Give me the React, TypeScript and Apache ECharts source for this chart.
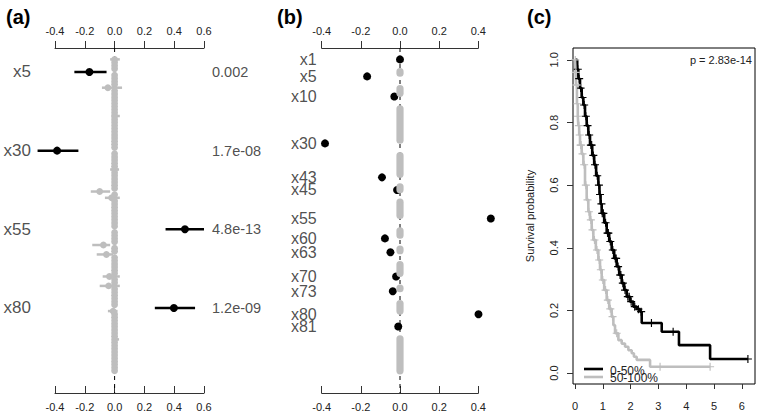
import React, { useEffect, useRef } from "react";
import * as echarts from "echarts";

const FONT = '"Liberation Sans", Arial, Helvetica, sans-serif';
const BLACK = "#000000";
const GREY = "#bebebe";
const TEXT = "#222222";
const AXIS = "#333333";

// ---------------- Panel (a): estimates with confidence intervals ----------------
const A_VAR_INDEX = [5, 30, 55, 80];
const A_EST = [-0.169, -0.386, 0.472, 0.398];
const A_LO = [-0.27, -0.517, 0.342, 0.27];
const A_HI = [-0.054, -0.243, 0.6, 0.54];
const A_PVALUES = ["0.002", "1.7e-08", "4.8e-13", "1.2e-09"];

// grey estimates for x1..x100 (null = drawn in black)
const GREY_EST = [
  0, 0, 0, 0, null, 0, 0, 0, 0, -0.045,
  0, 0, 0, 0, 0, 0, 0, 0, 0, 0,
  0, 0, 0, 0, 0, 0, 0, 0, 0, null,
  0, 0, 0, 0, 0, 0, 0, 0, 0, 0,
  0, 0, -0.1, 0, -0.02, 0, 0, 0, 0, 0,
  0, 0, 0, 0, null, 0, 0, 0, 0, -0.075,
  0, 0, -0.055, 0, 0, 0, 0, 0, 0, -0.035,
  0, 0, -0.04, 0, 0, 0, 0, 0, 0, null,
  -0.01, 0, 0, 0, 0, 0, 0, 0, 0, 0,
  0, 0, 0, 0, 0, 0, 0, 0, 0, 0,
];
const GREY_LO = [
  -0.03, -0.015, -0.015, -0.015, null, -0.015, -0.015, -0.015, -0.015, -0.085,
  -0.015, -0.015, -0.015, -0.015, -0.015, -0.015, -0.015, -0.015, -0.02, -0.015,
  -0.015, -0.015, -0.015, -0.015, -0.015, -0.015, -0.015, -0.015, -0.015, null,
  -0.015, -0.015, -0.015, -0.015, -0.015, -0.03, -0.015, -0.015, -0.015, -0.015,
  -0.015, -0.015, -0.16, -0.015, -0.065, -0.015, -0.015, -0.015, -0.015, -0.015,
  -0.015, -0.015, -0.015, -0.015, null, -0.015, -0.015, -0.015, -0.015, -0.15,
  -0.015, -0.015, -0.12, -0.015, -0.015, -0.015, -0.015, -0.015, -0.015, -0.08,
  -0.015, -0.015, -0.1, -0.015, -0.015, -0.015, -0.015, -0.015, -0.015, null,
  -0.045, -0.015, -0.015, -0.015, -0.015, -0.015, -0.015, -0.015, -0.015, -0.01,
  -0.015, -0.015, -0.015, -0.015, -0.015, -0.015, -0.015, -0.015, -0.015, -0.015,
];
const GREY_HI = [
  0.035, 0.015, 0.015, 0.015, null, 0.015, 0.015, 0.015, 0.015, 0.05,
  0.015, 0.015, 0.015, 0.015, 0.015, 0.015, 0.015, 0.015, 0.035, 0.015,
  0.015, 0.015, 0.015, 0.015, 0.015, 0.015, 0.015, 0.015, 0.015, null,
  0.015, 0.015, 0.015, 0.015, 0.015, 0.03, 0.015, 0.015, 0.015, 0.015,
  0.015, 0.015, -0.03, 0.015, 0.035, 0.015, 0.015, 0.015, 0.015, 0.015,
  0.015, 0.015, 0.015, 0.015, null, 0.015, 0.015, 0.015, 0.015, -0.03,
  0.015, 0.015, -0.01, 0.015, 0.015, 0.015, 0.015, 0.015, 0.015, 0.035,
  0.015, 0.015, 0.035, 0.015, 0.015, 0.015, 0.015, 0.015, 0.015, null,
  0.02, 0.015, 0.015, 0.015, 0.015, 0.015, 0.015, 0.015, 0.015, 0.03,
  0.015, 0.015, 0.015, 0.015, 0.015, 0.015, 0.015, 0.015, 0.015, 0.015,
];

// ---------------- Panel (b): selected coefficients ----------------
const B_VAR_INDEX = [1, 5, 10, 30, 43, 45, 55, 60, 63, 70, 73, 80, 81];
const B_COEF = [0, -0.168, -0.029, -0.383, -0.092, -0.015, 0.464, -0.077, -0.049, -0.02, -0.037, 0.401, -0.009];
const B_ROW = [1.0, 6.4, 12.8, 27.7, 38.5, 42.5, 51.6, 57.9, 62.3, 70.0, 74.7, 82.0, 85.9];
const B_LAST_ROW = 100;
const N_VARS = 100;

// ---------------- Panel (c): Kaplan-Meier curves ----------------
const KM_LOW_T = [0, 0.08, 0.12, 0.18, 0.24, 0.3, 0.36, 0.42, 0.48, 0.54, 0.62, 0.69, 0.76, 0.84, 0.88, 0.92, 0.96, 1.05, 1.14, 1.23, 1.32, 1.41, 1.5, 1.59, 1.68, 1.77, 1.86, 1.98, 2.1, 2.22, 2.34, 2.4, 3.12, 3.74, 4.86, 6.22];
const KM_LOW_S = [1.0, 0.97, 0.94, 0.91, 0.88, 0.856, 0.82, 0.79, 0.76, 0.728, 0.695, 0.665, 0.63, 0.6, 0.57, 0.54, 0.51, 0.48, 0.447, 0.42, 0.393, 0.366, 0.34, 0.313, 0.287, 0.265, 0.244, 0.228, 0.212, 0.204, 0.196, 0.16, 0.132, 0.089, 0.045, 0.045];
const KM_LOW_CENSOR = [0.1, 0.15, 0.2, 0.27, 0.33, 0.39, 0.45, 0.51, 0.57, 0.6, 0.66, 0.72, 0.8, 0.86, 0.9, 0.95, 0.98, 1.02, 1.1, 1.17, 1.2, 1.27, 1.36, 1.45, 1.48, 1.55, 1.62, 1.65, 1.72, 1.8, 1.9, 1.95, 2.02, 2.15, 2.28, 2.38, 2.75, 3.53, 6.22];

const KM_HIGH_T = [0, 0.02, 0.04, 0.07, 0.1, 0.12, 0.15, 0.18, 0.24, 0.3, 0.36, 0.42, 0.48, 0.54, 0.6, 0.66, 0.75, 0.84, 0.9, 0.96, 1.05, 1.14, 1.23, 1.32, 1.38, 1.44, 1.56, 1.68, 1.8, 1.92, 2.04, 2.12, 2.22, 2.7, 4.86];
const KM_HIGH_S = [1.0, 0.96, 0.92, 0.86, 0.82, 0.79, 0.76, 0.728, 0.7, 0.665, 0.6, 0.553, 0.515, 0.489, 0.457, 0.425, 0.393, 0.361, 0.33, 0.297, 0.265, 0.233, 0.205, 0.18, 0.153, 0.127, 0.105, 0.094, 0.084, 0.073, 0.063, 0.052, 0.042, 0.02, 0.02];
const KM_HIGH_CENSOR = [0.01, 0.03, 0.05, 0.06, 0.09, 0.11, 0.14, 0.17, 0.2, 0.22, 0.27, 0.33, 0.39, 0.45, 0.5, 0.57, 0.63, 0.7, 0.79, 0.87, 0.93, 1.0, 1.1, 1.18, 1.27, 1.35, 1.5, 3.06, 4.86];

const KM_X_TICKS = [0, 1, 2, 3, 4, 5, 6];
const KM_Y_TICKS = [0, 0.2, 0.4, 0.6, 0.8, 1.0];
const KM_LEGEND = ["0-50%", "50-100%"];
const P_VALUE_TEXT = "p = 2.83e-14";

// ---------------- layout constants ----------------
const ROW_MIN = -2.62;
const ROW_MAX = 107.04;
const GAP_AFTER = 3.9;
const GAP_BEFORE = 1.0;
const PLUS = "path://M3,0H4V3H7V4H4V7H3V4H0V3H3Z";

const fmt1 = (v: number) => (Math.abs(v) < 1e-9 ? "0.0" : v.toFixed(1));

function survAt(ts: number[], ss: number[], t: number) {
  let s = ss[0];
  for (let i = 0; i < ts.length; i++) {
    if (ts[i] <= t + 1e-9) s = ss[i];
    else break;
  }
  return s;
}

function coefAxis(gridIndex: number, position: "top" | "bottom", min: number, max: number) {
  const top = position === "top";
  return {
    type: "value",
    gridIndex,
    position,
    min,
    max,
    interval: 0.2,
    axisLine: { show: true, onZero: false, lineStyle: { color: AXIS, width: 1 } },
    axisTick: { show: true, inside: !top, length: 7, lineStyle: { color: AXIS, width: 1 } },
    axisLabel: {
      show: true,
      margin: top ? 12 : 8,
      color: TEXT,
      fontSize: 11,
      fontFamily: FONT,
      showMinLabel: true,
      showMaxLabel: true,
      formatter: fmt1,
    },
    splitLine: { show: false },
  };
}

function rowAxis(gridIndex: number) {
  return {
    type: "value",
    gridIndex,
    inverse: true,
    min: ROW_MIN,
    max: ROW_MAX,
    show: false,
    splitLine: { show: false },
  };
}

export default function App() {
  const ref = useRef<HTMLDivElement>(null);

  useEffect(() => {
    if (!ref.current) return;
    const chart = echarts.init(ref.current, undefined, { renderer: "svg" });

    // panel (a) data
    const greyData: number[][] = [];
    for (let i = 0; i < N_VARS; i++) {
      if (GREY_EST[i] === null) continue;
      greyData.push([GREY_EST[i] as number, GREY_LO[i] as number, GREY_HI[i] as number, i + 1]);
    }
    const blackData = A_VAR_INDEX.map((v, k) => [A_EST[k], A_LO[k], A_HI[k], v]);

    // panel (b) grey runs of unselected variables
    const runs: number[][] = [];
    for (let k = 0; k < B_VAR_INDEX.length; k++) {
      const nextIdx = k + 1 < B_VAR_INDEX.length ? B_VAR_INDEX[k + 1] : N_VARS + 1;
      if (nextIdx - B_VAR_INDEX[k] <= 1) continue;
      const start = B_ROW[k] + GAP_AFTER;
      const end = k + 1 < B_VAR_INDEX.length ? B_ROW[k + 1] - GAP_BEFORE : B_LAST_ROW;
      runs.push([0, Math.min(start, end), Math.max(start, end)]);
    }

    const ciRender = (color: string, r: number) => (params: any, api: any) => {
      const est = api.value(0);
      const lo = api.value(1);
      const hi = api.value(2);
      const row = api.value(3);
      const pl = api.coord([lo, row]);
      const ph = api.coord([hi, row]);
      const pe = api.coord([est, row]);
      return {
        type: "group",
        children: [
          {
            type: "line",
            shape: { x1: pl[0], y1: pl[1], x2: ph[0], y2: ph[1] },
            style: { stroke: color, lineWidth: 2.5 },
          },
          { type: "circle", shape: { cx: pe[0], cy: pe[1], r }, style: { fill: color } },
        ],
      };
    };

    const kmSeries = (ts: number[], ss: number[], color: string) => ({
      type: "line",
      xAxisIndex: 4,
      yAxisIndex: 2,
      step: "end",
      showSymbol: false,
      silent: true,
      z: 3,
      data: ts.map((t, i) => [t, ss[i]]),
      lineStyle: { color, width: 2.6 },
      itemStyle: { color },
    });
    const censorSeries = (cs: number[], ts: number[], ss: number[], color: string) => ({
      type: "scatter",
      xAxisIndex: 4,
      yAxisIndex: 2,
      symbol: PLUS,
      symbolSize: 8,
      silent: true,
      z: 4,
      data: cs.map((t) => [t, survAt(ts, ss, t)]),
      itemStyle: { color, opacity: 1 },
    });

    const option: any = {
      animation: false,
      grid: [
        { left: 55, top: 48, width: 149, height: 345 },
        { left: 321.7, top: 48, width: 156.6, height: 345 },
        {
          left: 573,
          top: 48,
          width: 182,
          height: 336,
          show: true,
          borderColor: "#000",
          borderWidth: 1,
          backgroundColor: "transparent",
        },
      ],
      xAxis: [
        coefAxis(0, "top", -0.4, 0.6),
        coefAxis(0, "bottom", -0.4, 0.6),
        coefAxis(1, "top", -0.4, 0.4),
        coefAxis(1, "bottom", -0.4, 0.4),
        {
          type: "value",
          gridIndex: 2,
          min: -0.072,
          max: 6.475,
          axisLine: { show: false, onZero: false },
          axisTick: {
            show: true,
            length: 5,
            customValues: KM_X_TICKS,
            lineStyle: { color: AXIS, width: 1 },
          },
          axisLabel: {
            show: true,
            customValues: KM_X_TICKS,
            margin: 16,
            color: TEXT,
            fontSize: 11,
            fontFamily: FONT,
            formatter: (v: number) => String(Math.round(v)),
          },
          splitLine: { show: false },
        },
      ],
      yAxis: [
        rowAxis(0),
        rowAxis(1),
        {
          type: "value",
          gridIndex: 2,
          min: -0.035,
          max: 1.038,
          name: "Survival probability",
          nameLocation: "middle",
          nameRotate: 90,
          nameGap: 38,
          nameTextStyle: { fontSize: 11, color: TEXT, fontFamily: FONT },
          axisLine: { show: false, onZero: false },
          axisTick: {
            show: true,
            length: 6,
            customValues: KM_Y_TICKS,
            lineStyle: { color: AXIS, width: 1 },
          },
          axisLabel: {
            show: true,
            customValues: KM_Y_TICKS,
            rotate: 90,
            margin: 14,
            color: TEXT,
            fontSize: 11,
            fontFamily: FONT,
            formatter: fmt1,
          },
          splitLine: { show: false },
        },
      ],
      graphic: [
        { type: "text", x: 6, y: 17, style: { text: "(a)", fontSize: 20, fontWeight: "bold", fontFamily: FONT, fill: BLACK, textVerticalAlign: "middle", verticalAlign: "middle" } },
        { type: "text", x: 277, y: 17, style: { text: "(b)", fontSize: 20, fontWeight: "bold", fontFamily: FONT, fill: BLACK, textVerticalAlign: "middle", verticalAlign: "middle" } },
        { type: "text", x: 527, y: 17, style: { text: "(c)", fontSize: 20, fontWeight: "bold", fontFamily: FONT, fill: BLACK, textVerticalAlign: "middle", verticalAlign: "middle" } },
        { type: "text", x: 752, y: 60, style: { text: P_VALUE_TEXT, fontSize: 11, fontFamily: FONT, fill: TEXT, textAlign: "right", align: "right", textVerticalAlign: "middle", verticalAlign: "middle" } },
        { type: "line", shape: { x1: 584, y1: 369, x2: 603, y2: 369 }, style: { stroke: BLACK, lineWidth: 2.6 } },
        { type: "line", shape: { x1: 584, y1: 377, x2: 603, y2: 377 }, style: { stroke: GREY, lineWidth: 2.6 } },
        { type: "text", x: 610, y: 371, style: { text: KM_LEGEND[0], fontSize: 12, fontFamily: FONT, fill: TEXT, textVerticalAlign: "middle", verticalAlign: "middle" } },
        { type: "text", x: 610, y: 378, style: { text: KM_LEGEND[1], fontSize: 12, fontFamily: FONT, fill: TEXT, textVerticalAlign: "middle", verticalAlign: "middle" } },
      ],
      series: [
        // ----- panel (a) -----
        {
          type: "line",
          xAxisIndex: 0,
          yAxisIndex: 0,
          showSymbol: false,
          silent: true,
          z: 1,
          data: [[0, ROW_MIN], [0, ROW_MAX]],
          lineStyle: { color: BLACK, width: 1, type: [4, 4] },
        },
        {
          type: "custom",
          xAxisIndex: 0,
          yAxisIndex: 0,
          silent: true,
          z: 3,
          clip: false,
          dimensions: ["est", "lo", "hi", "row"],
          encode: { x: [0, 1, 2], y: 3 },
          data: greyData,
          renderItem: ciRender(GREY, 3.4),
        },
        {
          type: "custom",
          xAxisIndex: 0,
          yAxisIndex: 0,
          silent: true,
          z: 4,
          clip: false,
          dimensions: ["est", "lo", "hi", "row"],
          encode: { x: [0, 1, 2], y: 3 },
          data: blackData,
          renderItem: ciRender(BLACK, 4),
        },
        {
          type: "scatter",
          xAxisIndex: 0,
          yAxisIndex: 0,
          symbolSize: 0,
          silent: true,
          clip: false,
          data: A_VAR_INDEX.map((v) => ({ name: "x" + v, value: [-0.4, v] })),
          label: { show: true, position: "left", distance: 24, formatter: "{b}", fontSize: 17, color: TEXT, fontFamily: FONT },
        },
        {
          type: "scatter",
          xAxisIndex: 0,
          yAxisIndex: 0,
          symbolSize: 0,
          silent: true,
          clip: false,
          data: A_VAR_INDEX.map((v, k) => ({ name: A_PVALUES[k], value: [0.6, v] })),
          label: { show: true, position: "right", distance: 8, formatter: "{b}", fontSize: 14.5, color: TEXT, fontFamily: FONT },
        },
        // ----- panel (b) -----
        {
          type: "line",
          xAxisIndex: 2,
          yAxisIndex: 1,
          showSymbol: false,
          silent: true,
          z: 1,
          data: [[0, ROW_MIN], [0, ROW_MAX]],
          lineStyle: { color: BLACK, width: 1, type: [4, 4] },
        },
        {
          type: "scatter",
          xAxisIndex: 2,
          yAxisIndex: 1,
          symbolSize: 8,
          silent: true,
          clip: false,
          z: 3,
          itemStyle: { color: BLACK, opacity: 1 },
          data: B_VAR_INDEX.map((v, k) => ({ name: "x" + v, value: [B_COEF[k], B_ROW[k]] })),
        },
        {
          type: "custom",
          xAxisIndex: 2,
          yAxisIndex: 1,
          silent: true,
          clip: false,
          z: 4,
          dimensions: ["x", "start", "end"],
          encode: { x: 0, y: [1, 2] },
          data: runs,
          renderItem: (params: any, api: any) => {
            const p1 = api.coord([api.value(0), api.value(1)]);
            const p2 = api.coord([api.value(0), api.value(2)]);
            const w = 7.2;
            return {
              type: "rect",
              shape: { x: p1[0] - w / 2, y: p1[1] - w / 2, width: w, height: p2[1] - p1[1] + w, r: w / 2 },
              style: { fill: GREY },
            };
          },
        },
        {
          type: "scatter",
          xAxisIndex: 2,
          yAxisIndex: 1,
          symbolSize: 0,
          silent: true,
          clip: false,
          data: B_VAR_INDEX.map((v, k) => ({ name: "x" + v, value: [-0.4, B_ROW[k]] })),
          label: { show: true, position: "left", distance: 5, formatter: "{b}", fontSize: 16, color: TEXT, fontFamily: FONT },
        },
        // ----- panel (c) -----
        kmSeries(KM_LOW_T, KM_LOW_S, BLACK),
        kmSeries(KM_HIGH_T, KM_HIGH_S, GREY),
        censorSeries(KM_LOW_CENSOR, KM_LOW_T, KM_LOW_S, BLACK),
        censorSeries(KM_HIGH_CENSOR, KM_HIGH_T, KM_HIGH_S, GREY),
      ],
    };

    chart.setOption(option);
    return () => chart.dispose();
  }, []);

  return (
    <div
      ref={ref}
      style={{ position: "fixed", left: 0, top: 0, width: 760, height: 414, background: "#fff" }}
    />
  );
}
